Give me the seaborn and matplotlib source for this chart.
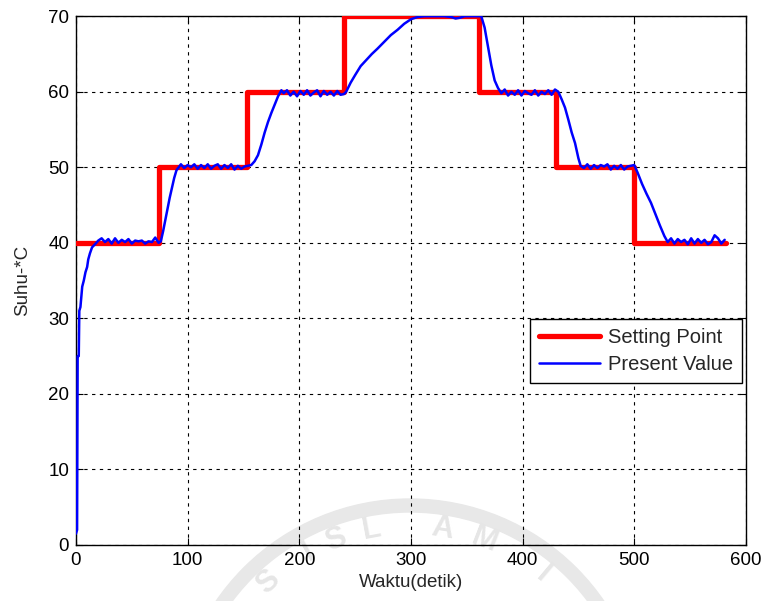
import numpy as np
import pandas as pd
import matplotlib
matplotlib.use("Agg")
import matplotlib.pyplot as plt
from matplotlib.patches import Wedge
import seaborn as sns

# Setpoint schedule (step changes, held until the next time)
t_sp = [0, 74, 153, 240, 361, 430, 500, 582]
sp = [40, 50, 60, 70, 60, 50, 40, 40]

# Measured temperature (present value)
t_pv = [0, 1, 1.5, 2.5, 3, 4, 5.6, 7, 8.5, 10, 11, 12.5, 14.4, 17, 20,
        23, 26, 29, 32, 35, 38, 41, 44, 47, 50, 53, 56, 59, 62, 65, 68, 71, 74,
        76, 78, 80, 82, 84, 86, 88, 90, 92,
        94, 97, 100, 103, 106, 109, 112, 115, 118, 121, 124, 127, 130, 133,
        136, 139, 142, 145, 148, 151, 154, 157,
        160, 163, 166, 169, 172, 175, 178, 181, 184, 186,
        189, 192, 195, 198, 201, 204, 207, 210, 213, 216, 219, 222, 225, 228,
        231, 234, 237, 240,
        242, 246, 250, 255, 260, 265, 270, 276, 282, 288, 294, 300, 306, 312,
        318, 324, 330, 336, 340, 344, 348, 354, 360, 363,
        366, 369, 372, 375, 378, 381,
        384, 387, 390, 393, 396, 399, 402, 405, 408, 411, 414, 417, 420, 423,
        426, 429, 432,
        435, 438, 441, 444, 447, 450, 452,
        455, 458, 461, 464, 467, 470, 473, 476, 479, 482, 485, 488, 491, 494,
        497, 500,
        503, 507, 511, 515, 519, 523, 527, 530,
        533, 536, 539, 542, 545, 548, 551, 554, 557, 560, 563, 566, 569, 572,
        575, 578, 581]
pv = [1.5, 2.0, 25.0, 25.0, 31.0, 31.5, 34.2, 35.0, 36.1, 36.8, 37.8, 38.6, 39.4, 39.8, 40.3,
      40.6, 40.1, 40.5, 39.9, 40.6, 40.0, 40.4, 40.1, 40.5, 39.9, 40.3, 40.2, 40.3, 39.9, 40.2, 40.1, 40.7, 40.0,
      40.2, 41.5, 43.0, 44.5, 46.0, 47.3, 48.6, 49.6, 50.0,
      50.4, 49.9, 50.3, 50.0, 50.4, 49.8, 50.3, 49.9, 50.4, 49.8, 50.2, 50.4, 49.8, 50.3,
      49.9, 50.4, 49.7, 50.2, 49.8, 50.1, 50.2, 50.3,
      50.8, 51.6, 53.0, 54.6, 56.0, 57.2, 58.3, 59.4, 60.2, 59.8,
      60.2, 59.5, 60.0, 59.4, 60.1, 59.6, 60.2, 59.5, 59.9, 60.2, 59.4, 60.1, 59.6, 60.0,
      59.5, 60.1, 59.6, 59.7,
      60.0, 61.2, 62.2, 63.4, 64.2, 65.0, 65.7, 66.6, 67.5, 68.2, 69.0, 69.6, 69.9, 70.0,
      70.0, 70.0, 70.0, 69.9, 69.7, 69.8, 70.0, 70.0, 70.0, 70.0,
      68.5, 66.0, 63.5, 61.5, 60.5, 59.8,
      60.3, 59.5, 60.0, 59.6, 60.2, 59.5, 60.1, 59.8, 59.6, 60.2, 59.5, 60.0, 59.7, 60.2,
      59.6, 60.3, 60.0,
      59.0, 57.9, 56.3, 54.6, 53.2, 51.2, 50.2,
      49.9, 50.4, 49.8, 50.3, 49.9, 50.3, 50.1, 50.4, 49.7, 50.2, 49.8, 50.3, 49.7, 50.1,
      50.2, 50.3,
      49.3, 47.8, 46.5, 45.3, 43.8, 42.3, 40.9, 40.1,
      40.6, 39.9, 40.5, 40.1, 40.4, 39.8, 40.6, 39.9, 40.5, 40.0, 40.4, 39.8, 40.1, 41.0,
      40.6, 39.9, 40.4]

x_ticks = [0, 100, 200, 300, 400, 500, 600]
y_ticks = [0, 10, 20, 30, 40, 50, 60, 70]

df_sp = pd.DataFrame({"t": t_sp, "v": sp})
df_pv = pd.DataFrame({"t": t_pv, "v": pv})

sns.set_style("white")
plt.rcParams["font.family"] = ["Liberation Sans", "DejaVu Sans"]
FS = 13.5

fig = plt.figure(figsize=(7.65, 6.01), dpi=100)
ax = fig.add_axes([0.0993, 0.0932, 0.8757, 0.8798])
ax.set_facecolor("none")

# Faint circular emblem in the background
cx, cy = 4.10, -1.33
ring = Wedge((cx, cy), 2.35, 0, 180, width=0.13, color="#e8e8e8",
             transform=fig.dpi_scale_trans, zorder=-5)
fig.add_artist(ring)
rr = 2.08
for ch, ang in [("S", 43), ("I", 29), ("S", 21), ("L", 10.5), ("A", -9), ("M", -21), ("I", -40)]:
    a = np.deg2rad(90 + ang)
    fig.text(cx + rr * np.cos(a), cy + rr * np.sin(a), ch, transform=fig.dpi_scale_trans,
             rotation=ang, ha="center", va="center", fontsize=22, color="#e6e6e6",
             fontweight="bold", zorder=-5)

sns.lineplot(data=df_sp, x="t", y="v", ax=ax, color="#ff0000", linewidth=3.8,
             drawstyle="steps-post", estimator=None, label="Setting Point", zorder=3)
sns.lineplot(data=df_pv, x="t", y="v", ax=ax, color="#0000ff", linewidth=1.8,
             estimator=None, sort=False, label="Present Value", zorder=4)

ax.set_xlim(0, 600)
ax.set_ylim(0, 70)
ax.set_xticks(x_ticks)
ax.set_yticks(y_ticks)
ax.grid(True, color="black", linestyle=(0, (3, 4)), linewidth=0.8)
ax.tick_params(direction="in", length=5, width=0.8, top=True, right=True,
               bottom=True, left=True, labelsize=FS, colors="black", pad=5)
for s in ax.spines.values():
    s.set_visible(True)
    s.set_color("black")
    s.set_linewidth(1.0)

ax.set_xlabel("Waktu(detik)", fontsize=FS, labelpad=4)
ax.set_ylabel("Suhu-*C", fontsize=FS, labelpad=12)

leg = ax.legend(loc="upper right", bbox_to_anchor=(0.994, 0.427), fontsize=14.5,
                frameon=True, fancybox=False, framealpha=1, edgecolor="black",
                handlelength=3.0, handletextpad=0.4, borderpad=0.45, labelspacing=0.4,
                borderaxespad=0)
leg.get_frame().set_linewidth(1.0)

fig.savefig("out.png", dpi=100)
